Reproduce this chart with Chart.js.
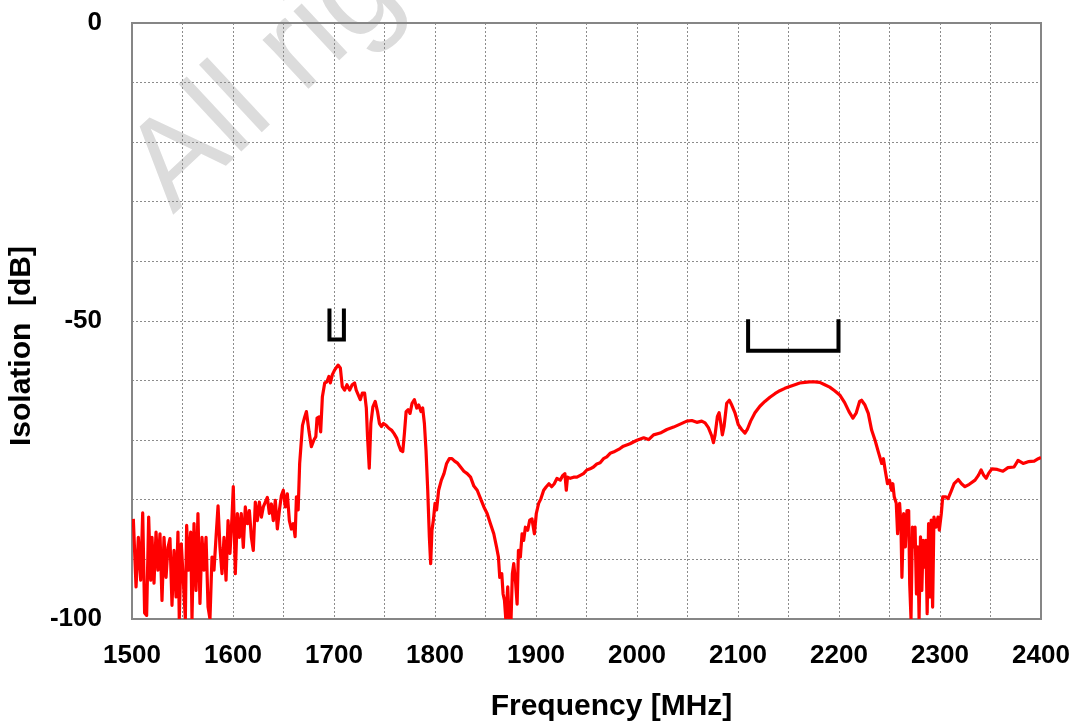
<!DOCTYPE html>
<html>
<head>
<meta charset="utf-8">
<script src="https://cdn.jsdelivr.net/npm/chart.js@4.4.1/dist/chart.umd.min.js"></script>
<style>
  html, body { margin: 0; padding: 0; background: #fff; }
</style>
</head>
<body>
<canvas id="chart" width="1084" height="723"></canvas>
<script>
const freqMHz = [
  1501.3, 1504, 1506.3, 1508.6, 1510.6, 1512.5, 1514.5, 1516.5, 1518.5, 1519.8,
  1521.8, 1523.8, 1525.7, 1527.7, 1529.7, 1531.7, 1533.7, 1535.6, 1537.6, 1539.6,
  1541.6, 1543.6, 1545.5, 1546.8, 1548.8, 1550.8, 1552.8, 1554.1, 1556.1, 1558.1,
  1559.4, 1561.4, 1563.4, 1565.3, 1567.3, 1569.3, 1571.3, 1573.3, 1575.3, 1577.2,
  1579.2, 1581.2, 1583.2, 1585.2, 1587.1, 1589.1, 1591.1, 1593.1, 1595.1, 1597,
  1599, 1600.3, 1602.3, 1604.3, 1606.3, 1608.2, 1610.2, 1612.2, 1614.2, 1616.2,
  1618.2, 1620.1, 1622.1, 1624.1, 1626.1, 1628.1, 1630, 1632, 1634, 1636,
  1638, 1639.9, 1641.9, 1643.9, 1645.9, 1647.9, 1649.8, 1651.8, 1653.8, 1655.8,
  1657.8, 1659.7, 1661.5, 1662.8, 1664.5, 1666,
  1668.8, 1671, 1672.7, 1675.3, 1677.6, 1680, 1682, 1683.2, 1685.2, 1686.8,
  1688.5, 1690.8, 1693, 1695, 1696.4, 1698.4, 1700.7, 1704, 1706.3, 1708.2,
  1710.5, 1712.8, 1715.5, 1718, 1720.4, 1722, 1724, 1726, 1728, 1730.3,
  1732, 1733.2, 1734.9, 1736.5, 1738.5, 1740.8, 1743.1, 1745, 1747, 1749,
  1751.6, 1754.3, 1756.9, 1759.5, 1762.2, 1764.1, 1766.1, 1768.1, 1769.7, 1771.4,
  1773.4, 1775.3, 1777.3, 1779.6, 1781.9, 1783.9, 1786.2, 1787.8, 1789.5, 1791.1,
  1792.8, 1794.4, 1795.7, 1797, 1798.4, 1800, 1801.6, 1803.6,
  1806.3, 1808.9, 1811.5, 1814.1, 1816.8, 1819.4, 1822, 1825.3, 1828.6, 1831.9,
  1835.2, 1838.5, 1841.8, 1845.1, 1848.4, 1851.6, 1854.9, 1858.2, 1860.9, 1862.8,
  1864.1, 1866.1, 1867.4, 1868.8, 1870.1, 1872, 1873.4, 1875.3, 1876.6, 1878,
  1879.9, 1881.3, 1882.6, 1884.5, 1886.2, 1887.8, 1889.5, 1891.8, 1893.8, 1896,
  1898.4, 1900.3, 1902.6, 1904.9, 1907.6, 1910.2, 1912.8, 1915.5, 1918.1, 1920.7,
  1924, 1926.6, 1928.6, 1930, 1931.2, 1933.9, 1937.2, 1940.5, 1943.8, 1947,
  1950.3, 1953.6, 1956.9, 1960.2, 1963.5, 1966.8, 1970.1, 1973.4, 1976.6, 1979.9,
  1983.2, 1986.5, 1989.8, 1993.1, 1996.4, 2000,
  2006.6, 2011.5, 2016.4, 2023, 2029.6, 2036.2, 2042.8, 2049.3, 2054.3, 2059.2,
  2064.1, 2067.4, 2070.7, 2074, 2075.7, 2077.3, 2079.6, 2081.3, 2082.9, 2084.5,
  2086.2, 2088.8, 2091.4, 2093.8, 2097, 2100.3, 2103.6, 2106.9, 2109.2, 2112.5,
  2116.8, 2121.7, 2126.6, 2131.6, 2136.5, 2141.4, 2146.4, 2151.3, 2156.3, 2161.2,
  2166.1, 2171, 2176, 2180.9, 2185.9, 2190.8, 2195.7, 2200.7, 2205.6, 2209.9,
  2213.8, 2217.1, 2220.4,
  2222.3, 2225.7, 2229, 2232.3, 2235.7, 2239, 2242.3, 2244, 2245.7, 2248,
  2250, 2252, 2253.3, 2254.7, 2256.7, 2258, 2260, 2261.3, 2262.3, 2264,
  2265.7, 2267.3, 2269, 2270, 2271.3, 2272.7, 2274, 2275.3, 2276.7, 2278,
  2279.3, 2280.7, 2282, 2283.3, 2284.7, 2286, 2287.3, 2288.7, 2290, 2291.3,
  2292.7, 2294, 2296, 2298, 2299.3, 2301.3, 2302.7, 2305.7, 2308, 2310.7,
  2314, 2318, 2321.3, 2324.7, 2329, 2334.7, 2338, 2340.7, 2343.3, 2345.7,
  2348, 2351.3, 2356.7, 2362.3, 2367.3, 2373.3, 2377.3, 2382.3, 2387.3, 2393.3,
  2397.3, 2400
];
const isolationDb = [
  -83.2, -94.6, -86.3, -93.5, -82.2, -99, -99.4, -82.9, -93.5, -86.3,
  -94, -85.4, -91.8, -85.7, -96.9, -86.3, -93, -88, -86.5, -97.7,
  -88.5, -96.3, -85.4, -100, -87.4, -93.5, -100, -84.3, -91.8, -85.4,
  -100, -84, -95.2, -82.3, -97.4, -86.3, -91.8, -86.3, -98, -100,
  -89.6, -91.8, -86.3, -81, -88, -92.4, -86.3, -93.5, -83.5, -89,
  -82.9, -77.8, -92.4, -82.3, -86.3, -82.3, -88, -81.2, -84, -81.8,
  -86.3, -88.5, -80.4, -83.5, -80.4, -82.9, -81.2, -80.4, -79.6, -82.3,
  -80.7, -83.5, -80.1, -84.9, -81.8, -79.3, -78.4, -81.2, -79, -83.5,
  -84.9, -84, -86.2, -79.5, -81.7, -73.9,
  -67.5, -66.1, -65.2, -68.6, -71.1, -70, -69.4, -66.3, -66.1, -68.6,
  -62.7, -60.4, -60.2, -59.3, -60.4, -59, -58.2, -57.4, -57.9, -61,
  -61.6, -60.7, -61.6, -60.7, -60.4, -61.6, -62.4, -63.2, -62.1, -62.1,
  -64.6, -69.4, -74.7, -67.2, -64.4, -63.5, -65.2, -67.2, -67.7, -67.2,
  -67.5, -68, -68.3, -68.9, -69.7, -70.8, -71.7, -71.9, -68.9, -65.2,
  -64.9, -65.5, -63.8, -63.2, -64.6, -64.1, -65.2, -64.6, -67.2, -71.7,
  -78.4, -86.2, -90.7, -85.1, -83.4, -80.6, -81.7, -78.4,
  -76.7, -75.6, -73.9, -73.1, -73.1, -73.5, -73.8, -74.5, -75.2, -75.6,
  -76.2, -77.7, -78.4, -79.8, -81.2, -82.3, -84, -85.7, -87.9, -89.6,
  -93, -92.4, -95.8, -96.9, -100, -94.6, -100, -100, -92.4, -90.7,
  -94.1, -97.5, -88.5, -89.6, -85.7, -86.8, -84.6, -85.1, -83.4, -83.2,
  -85.7, -82.3, -80.6, -79.8, -78.4, -77.8, -77.3, -77.8, -77.3, -76.4,
  -76.7, -75.9, -75.6, -78.4, -76.2, -76.4, -76.2, -76.2, -75.9, -75.6,
  -75, -74.8, -74.5, -74, -73.8, -73.1, -72.8, -72.2, -72, -71.7,
  -71.4, -71, -70.8, -70.6, -70.3, -70,
  -69.6, -69.9, -69.1, -68.8, -68.2, -67.8, -67.3, -66.8, -66.7, -67,
  -66.8, -67.1, -67.9, -69.3, -70.4, -69.1, -66, -65.4, -67.1, -69.1,
  -67.7, -63.8, -63.3, -64.1, -65.4, -67.4, -68.2, -68.8, -68.2, -66.8,
  -65.4, -64.3, -63.5, -62.8, -62.2, -61.7, -61.3, -61, -60.7, -60.4,
  -60.3, -60.2, -60.2, -60.3, -60.7, -61.1, -61.7, -62.4, -63.7, -65.2,
  -66.3, -65.4, -63.5,
  -63.3, -64.1, -65.5, -68.3, -70, -72, -73.9, -73.1, -75, -77.3,
  -76.7, -78.4, -77.3, -79.5, -80.6, -85.7, -80.6, -84, -93, -82.3,
  -87.9, -81.8, -81.8, -94.1, -100, -84.6, -87.9, -84.6, -95.8, -87.9,
  -100, -86.2, -95.2, -86.8, -91.3, -86.8, -99.1, -84, -96.3, -83.4,
  -98, -82.9, -84.6, -82.9, -85.1, -82.3, -79.5, -79.5, -79.8, -78.7,
  -77.3, -76.6, -77.3, -77.8, -77.4, -76.7, -75.9, -75, -75.9, -76.4,
  -75.6, -74.8, -74.9, -75.2, -74.6, -74.5, -73.4, -73.9, -73.6, -73.5,
  -73.1, -72.9
];

// band markers (brackets)
const band1Freq = [1695.5, 1695.5, 1709.8, 1709.8];
const band1Db = [-47.9, -53.1, -53.1, -47.9];
const band2Freq = [2110, 2110, 2199.5, 2199.5];
const band2Db = [-49.7, -55, -55, -49.7];

const xMin = 1500, xMax = 2400, xStep = 50, xLabelEvery = 100;
const yMin = -100, yMax = 0, yStep = 10, yLabelEvery = 50;

function zip(xs, ys) {
    return xs.map((x, i) => ({ x: x, y: ys[i] }));
}

const FONT = '"Liberation Sans", Arial, sans-serif';

const backdrop = {
    id: 'backdrop',
    beforeDraw(chart) {
        const ctx = chart.ctx;
        ctx.save();
        ctx.fillStyle = '#fff';
        ctx.fillRect(0, 0, chart.width, chart.height);
        // faint diagonal watermark, kept right of the y axis
        ctx.beginPath();
        ctx.rect(chart.chartArea.left, 0, chart.width, chart.height);
        ctx.clip();
        ctx.translate(173, 215);
        ctx.rotate(-0.75);
        ctx.font = '127px ' + FONT;
        ctx.fillStyle = '#dcdcdc';
        ctx.fillText('All rights reserved', 0, 0);
        ctx.restore();
    },
    beforeDatasetsDraw(chart) {
        const { ctx, chartArea: a } = chart;
        ctx.save();
        ctx.strokeStyle = '#868686';
        ctx.lineWidth = 2;
        ctx.strokeRect(a.left, a.top, a.right - a.left, a.bottom - a.top);
        ctx.restore();
    }
};

new Chart(document.getElementById('chart'), {
    type: 'line',
    data: {
        datasets: [
            {
                data: zip(freqMHz, isolationDb),
                borderColor: '#ff0000',
                borderWidth: 3.2,
                borderJoinStyle: 'round',
                pointRadius: 0,
                tension: 0
            },
            {
                data: zip(band1Freq, band1Db),
                borderColor: '#000',
                borderWidth: 4,
                pointRadius: 0,
                tension: 0
            },
            {
                data: zip(band2Freq, band2Db),
                borderColor: '#000',
                borderWidth: 4,
                pointRadius: 0,
                tension: 0
            }
        ]
    },
    options: {
        responsive: false,
        animation: false,
        layout: { padding: { top: 23, right: 43, left: 0, bottom: 0 } },
        plugins: {
            legend: { display: false },
            tooltip: { enabled: false }
        },
        scales: {
            x: {
                type: 'linear',
                min: xMin,
                max: xMax,
                afterFit: s => { s.height = 104; },
                grid: { color: '#8c8c8c', lineWidth: 1, drawTicks: true, tickLength: 21, tickColor: 'rgba(0,0,0,0)' },
                border: { display: false, dash: [2, 2] },
                ticks: {
                    stepSize: xStep,
                    autoSkip: false,
                    maxRotation: 0,
                    padding: 0,
                    color: '#000',
                    font: { family: FONT, size: 26, weight: 'bold' },
                    callback: v => (v % xLabelEvery === 0 ? v : '')
                },
                title: {
                    display: true,
                    text: '      Frequency [MHz]',
                    color: '#000',
                    font: { family: FONT, size: 30, weight: 'bold', lineHeight: 1 },
                    padding: { top: 0, bottom: 1 }
                }
            },
            y: {
                min: yMin,
                max: yMax,
                afterFit: s => { s.width = 132; },
                grid: { color: '#8c8c8c', lineWidth: 1, drawTicks: true, tickLength: 30, tickColor: 'rgba(0,0,0,0)' },
                border: { display: false, dash: [2, 2] },
                ticks: {
                    stepSize: yStep,
                    padding: 0,
                    color: '#000',
                    font: { family: FONT, size: 26, weight: 'bold' },
                    callback: v => (v % yLabelEvery === 0 ? v : '')
                },
                title: {
                    display: true,
                    text: 'Isolation  [dB]      ',
                    color: '#000',
                    font: { family: FONT, size: 30, weight: 'bold', lineHeight: 1 },
                    padding: { top: 7, bottom: 0 }
                }
            }
        }
    },
    plugins: [backdrop]
});
</script>
</body>
</html>
